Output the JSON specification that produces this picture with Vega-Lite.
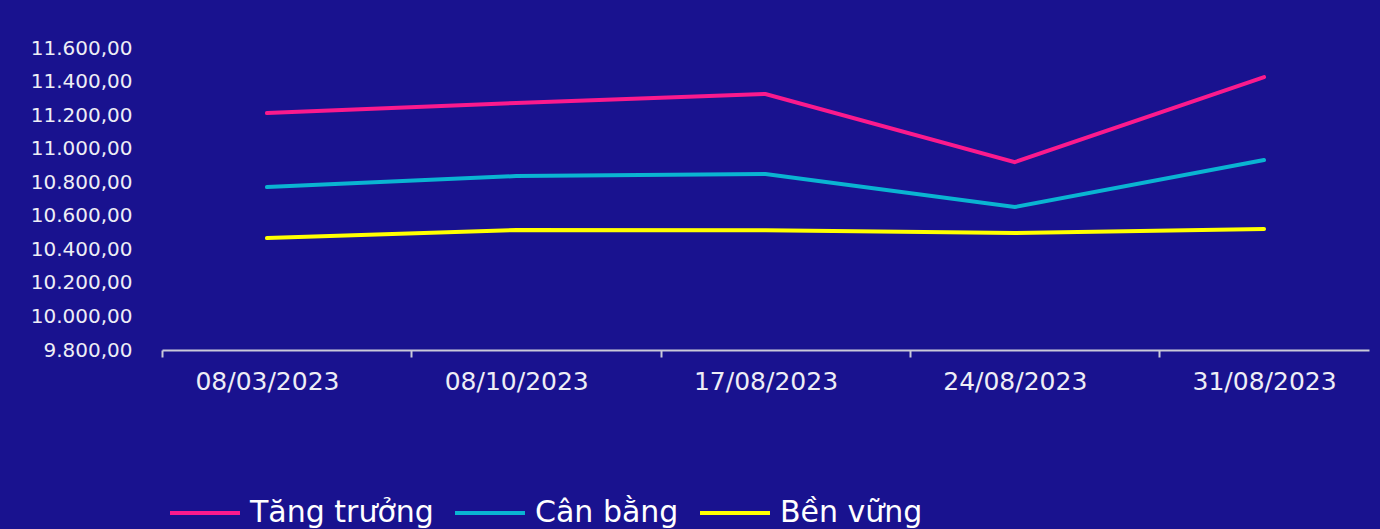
{
  "$schema": "https://vega.github.io/schema/vega-lite/v6.json",
  "width": 1207,
  "height": 302,
  "autosize": {"type": "none"},
  "padding": {"left": 162, "top": 48, "right": 11, "bottom": 179},
  "background": "#19128f",
  "config": {
    "view": {"stroke": null},
    "locale": {"number": {"decimal": ",", "thousands": ".", "grouping": [3], "currency": ["", ""]}},
    "font": "DejaVu Sans"
  },
  "data": {
    "values": [
      {"date": "08/03/2023", "series": "Tăng trưởng", "value": 11212},
      {"date": "08/10/2023", "series": "Tăng trưởng", "value": 11272},
      {"date": "17/08/2023", "series": "Tăng trưởng", "value": 11326},
      {"date": "24/08/2023", "series": "Tăng trưởng", "value": 10920},
      {"date": "31/08/2023", "series": "Tăng trưởng", "value": 11427},
      {"date": "08/03/2023", "series": "Cân bằng", "value": 10771},
      {"date": "08/10/2023", "series": "Cân bằng", "value": 10837},
      {"date": "17/08/2023", "series": "Cân bằng", "value": 10849},
      {"date": "24/08/2023", "series": "Cân bằng", "value": 10652},
      {"date": "31/08/2023", "series": "Cân bằng", "value": 10932},
      {"date": "08/03/2023", "series": "Bền vững", "value": 10467},
      {"date": "08/10/2023", "series": "Bền vững", "value": 10515},
      {"date": "17/08/2023", "series": "Bền vững", "value": 10513},
      {"date": "24/08/2023", "series": "Bền vững", "value": 10497},
      {"date": "31/08/2023", "series": "Bền vững", "value": 10521}
    ]
  },
  "mark": {"type": "line", "strokeWidth": 4, "strokeCap": "round"},
  "encoding": {
    "x": {
      "field": "date",
      "type": "ordinal",
      "sort": null,
      "scale": {"type": "point", "padding": 0.421},
      "axis": {
        "title": null,
        "labelAngle": 0,
        "labelFontSize": 25,
        "labelColor": "#eeeef6",
        "labelPadding": 12,
        "domainColor": "#c9c9d9",
        "domainWidth": 2,
        "tickColor": "#c9c9d9",
        "tickWidth": 2,
        "tickSize": 7,
        "tickOffset": -105,
        "labelOffset": 105,
        "grid": false
      }
    },
    "y": {
      "field": "value",
      "type": "quantitative",
      "scale": {"domain": [9800, 11600], "nice": false, "zero": false},
      "axis": {
        "title": null,
        "values": [9800, 10000, 10200, 10400, 10600, 10800, 11000, 11200, 11400, 11600],
        "format": ",.2f",
        "labelFontSize": 20,
        "labelColor": "#eeeef6",
        "labelPadding": 30,
        "domain": false,
        "ticks": false,
        "grid": false
      }
    },
    "color": {
      "field": "series",
      "type": "nominal",
      "scale": {
        "domain": ["Tăng trưởng", "Cân bằng", "Bền vững"],
        "range": ["#fb1a8d", "#0ab4d2", "#ffff00"]
      },
      "legend": {
        "title": null,
        "orient": "none",
        "direction": "horizontal",
        "legendX": 6,
        "legendY": 428,
        "symbolType": "stroke",
        "symbolSize": 4900,
        "symbolStrokeWidth": 4,
        "labelFontSize": 30,
        "labelColor": "#ffffff",
        "labelOffset": 8,
        "columnPadding": 13,
        "labelLimit": 400
      }
    }
  }
}
